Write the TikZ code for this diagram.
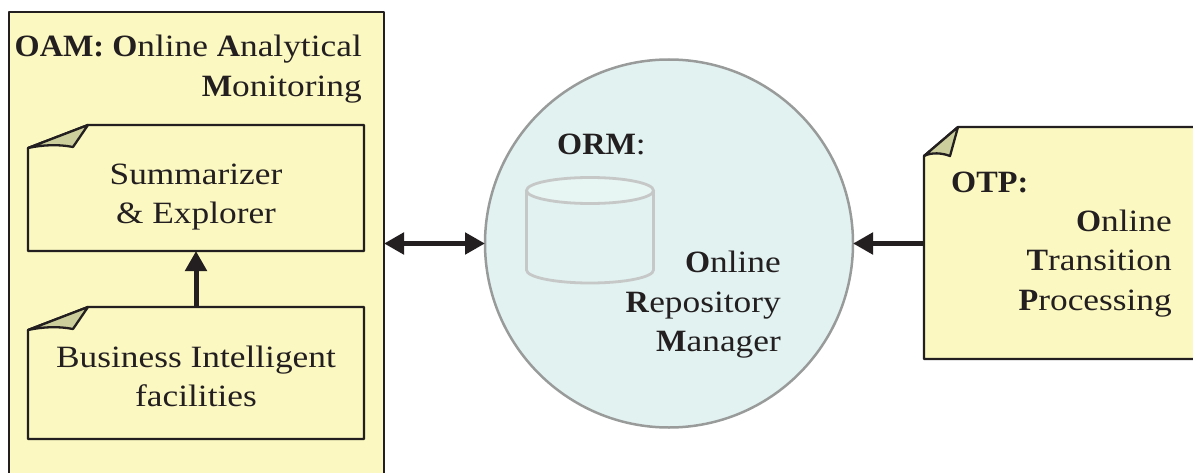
\documentclass[tikz,border=0pt]{standalone}
\usepackage{fontspec}
\setmainfont[FakeStretch=1.14,BoldFeatures={FakeStretch=1.04}]{Liberation Serif}
\usetikzlibrary{arrows.meta}
\definecolor{paper}{HTML}{FBF8C1}
\definecolor{foldc}{HTML}{CCCF9C}
\definecolor{inkc}{HTML}{231F20}
\definecolor{orbc}{HTML}{E1F2F0}
\definecolor{orbl}{HTML}{999B9B}
\definecolor{cyll}{HTML}{C6C8C8}
\tikzset{
  lbl/.style={font=\fontsize{31}{39}\selectfont,text=inkc,align=center,inner sep=0pt},
  lblr/.style={lbl,align=right},
  body/.style={inner sep=0pt,outer sep=0pt,rectangle},
  edge/.style={draw=inkc,line width=2.3pt,fill=paper,line join=round},
  flap/.style={draw=inkc,line width=2.3pt,fill=foldc,line join=round},
  link/.style={draw=inkc,line width=5pt},
  tip/.style={-{Triangle[length=20pt,width=21pt]}},
  tips/.style={{Triangle[length=20pt,width=21pt]}-{Triangle[length=20pt,width=21pt]}}
}
\begin{document}
\begin{tikzpicture}[x=1pt,y=-1pt]
\useasboundingbox (0,0) rectangle (1193,473);
\clip (0,0) rectangle (1193,473);
% outer OAM panel
\draw[edge] (9,12) rectangle (384,500);
\node[body,minimum width=375pt,minimum height=488pt] (oam) at (196.5,256) {};
\node[lblr,anchor=base east] (oamt1) at (362,57) {\textbf{OAM: O}nline \textbf{A}nalytical};
\node[lblr,anchor=base east] (oamt2) at (362,97) {\textbf{M}onitoring};
% Summarizer note
\draw[edge] (28,148) -- (88,125) -- (364,125) -- (364,251) -- (28,251) -- cycle;
\draw[flap] (28,148) -- (88,125) -- (73,147) .. controls (58,144) and (42,145) .. (28,148) -- cycle;
\node[body,minimum width=336pt,minimum height=126pt] (sum) at (196,188) {};
\node[lbl] (sumt) at (196,197) {Summarizer\\\& Explorer};
% Business note
\draw[edge] (28,330) -- (88,307) -- (364,307) -- (364,439) -- (28,439) -- cycle;
\draw[flap] (28,330) -- (88,307) -- (73,329) .. controls (58,326) and (42,327) .. (28,330) -- cycle;
\node[body,minimum width=336pt,minimum height=132pt] (bus) at (196,373) {};
\node[lbl] (bust) at (196,376) {Business Intelligent\\facilities};
% ORM circle
\node[circle,draw=orbl,line width=2.5pt,fill=orbc,minimum size=368pt,inner sep=0pt,outer sep=0pt] (orm) at (669,243.5) {};
% cylinder
\draw[draw=cyll,line width=2.8pt,fill=orbc] (526.5,191) -- (526.5,270) arc[start angle=180,end angle=360,x radius=63.5pt,y radius=13pt] -- (653.5,191);
\draw[draw=cyll,line width=2.8pt,fill=orbc!80!white] (590,190.5) ellipse[x radius=63.5pt,y radius=13pt];
\node[lbl,anchor=base west] (ormt) at (557,155) {\textbf{ORM}:};
\node[lblr,anchor=base east] (ormt1) at (781,272) {\textbf{O}nline};
\node[lblr,anchor=base east] (ormt2) at (781,312) {\textbf{R}epository};
\node[lblr,anchor=base east] (ormt3) at (781,351) {\textbf{M}anager};
% OTP note
\draw[edge] (924,156) -- (958,127) -- (1200,127) -- (1200,359) -- (924,359) -- cycle;
\draw[flap] (924,156) -- (958,127) -- (950,156) .. controls (942,153) and (932,152) .. (924,156) -- cycle;
\node[body,minimum width=269pt,minimum height=232pt] (otp) at (1058.5,243) {};
\node[lbl,anchor=base west] (otpt) at (951,193) {\textbf{OTP:}};
\node[lblr,anchor=base east] (otpt1) at (1172,231) {\textbf{O}nline};
\node[lblr,anchor=base east] (otpt2) at (1172,270) {\textbf{T}ransition};
\node[lblr,anchor=base east] (otpt3) at (1172,310) {\textbf{P}rocessing};
% connectors
\draw[link,tip] (bus.north) -- (sum.south);
\draw[link,tips] (oam.east |- orm.west) -- (orm.west);
\draw[link,tip] (otp.west |- orm.east) -- (orm.east);
\end{tikzpicture}
\end{document}
